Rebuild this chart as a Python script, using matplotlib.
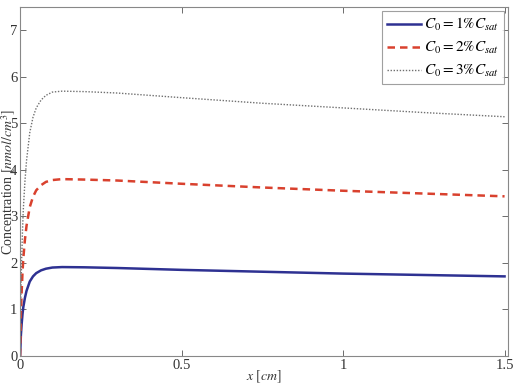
import numpy as np
import matplotlib.pyplot as plt

# values
x = [0, 0.0025, 0.005, 0.0075, 0.01, 0.015, 0.02, 0.03, 0.04, 0.05, 0.065, 0.08, 0.1, 0.13,
     0.2, 0.3, 0.5, 0.75, 1.0, 1.25, 1.5]
c1 = [0, 0.45, 0.7, 0.9, 1.05, 1.25, 1.4, 1.6, 1.71, 1.78, 1.84, 1.875, 1.9, 1.91,
      1.905, 1.89, 1.85, 1.81, 1.77, 1.74, 1.71]
c2 = [0, 0.9, 1.4, 1.8, 2.1, 2.5, 2.8, 3.2, 3.42, 3.56, 3.67, 3.74, 3.78, 3.8,
      3.79, 3.77, 3.7, 3.62, 3.55, 3.49, 3.43]
c3 = [0, 1.35, 2.1, 2.7, 3.15, 3.75, 4.2, 4.8, 5.13, 5.33, 5.5, 5.6, 5.67, 5.69,
      5.68, 5.65, 5.55, 5.43, 5.33, 5.23, 5.14]
labels = [r"$C_0 = 1\%C_{sat}$", r"$C_0 = 2\%C_{sat}$", r"$C_0 = 3\%C_{sat}$"]

plt.rcParams.update({
    "font.family": "serif",
    "font.serif": ["Liberation Serif", "DejaVu Serif"],
    "mathtext.fontset": "stix",
    "font.size": 10,
})

fig = plt.figure(figsize=(5.15, 3.84), dpi=100)
ax = fig.add_axes([0.039, 0.073, 0.947, 0.909])

ax.plot(x, c1, color="#2e3192", lw=1.8, label=labels[0])
ax.plot(x, c2, color="#d9412e", lw=1.8, ls=(0, (3, 2)), label=labels[1])
ax.plot(x, c3, color="#707070", lw=1.0, ls=(0, (1, 1.2)), label=labels[2])

ax.set_xlim(0, 1.51)
ax.set_ylim(0, 7.5)
ax.set_xticks([0, 0.5, 1, 1.5])
ax.set_xticklabels(["0", "0.5", "1", "1.5"])
ax.set_yticks(range(8))

ax.tick_params(direction="in", top=True, right=True, length=4, width=0.6,
               colors="#555555", labelcolor="#333333", pad=2, labelsize=10.5)
for s in ax.spines.values():
    s.set_color("#888888")
    s.set_linewidth(0.8)

ax.set_xlabel(r"$x\ [cm]$", color="#333333")
ax.xaxis.set_label_coords(0.5, -0.035)
ax.set_ylabel(r"Concentration $[nmol/cm^3]$", color="#333333")
ax.yaxis.set_label_coords(-0.004, 0.5)

leg = ax.legend(loc="upper right", frameon=True, fancybox=False, fontsize=11,
                handlelength=2.2, handletextpad=0.2, borderpad=0.35, labelspacing=0.45,
                borderaxespad=0.25)
leg.get_frame().set_edgecolor("#888888")
leg.get_frame().set_linewidth(0.8)

plt.savefig("out.png", dpi=100)
